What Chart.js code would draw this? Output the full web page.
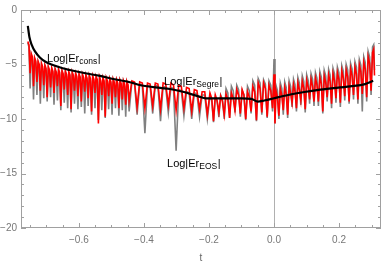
<!DOCTYPE html>
<html>
<head>
<meta charset="utf-8">
<script src="https://cdn.jsdelivr.net/npm/chart.js@4.4.0/dist/chart.umd.min.js"></script>
<style>
  html, body { margin: 0; padding: 0; background: #fff; }
</style>
</head>
<body>
<canvas id="errChart" width="382" height="267"></canvas>
<script>
// sample times for the two oscillating error curves
// (each oscillation read as peak, shoulder, dip)
const tNoise = [
  // t < -0.445, fast oscillation
  -0.757, -0.7535, -0.750, -0.7465, -0.743, -0.7395, -0.736, -0.7325, -0.729,
  -0.7255, -0.722, -0.7185, -0.715, -0.7115, -0.708, -0.7045, -0.701, -0.6975,
  -0.694, -0.6905, -0.687, -0.6835, -0.680, -0.6765, -0.673, -0.6695, -0.666,
  -0.6625, -0.659, -0.6555, -0.652, -0.6485, -0.645, -0.6415, -0.638, -0.6345,
  -0.631, -0.6275, -0.624, -0.6205, -0.617, -0.6135, -0.610, -0.6065, -0.603,
  -0.5995, -0.596, -0.5925, -0.589, -0.5855, -0.582, -0.5785, -0.575, -0.5715,
  -0.568, -0.5645, -0.561, -0.5575, -0.554, -0.5505, -0.547, -0.5435, -0.540,
  -0.5365, -0.533, -0.5295, -0.526, -0.5225, -0.519, -0.5155, -0.512, -0.5085,
  -0.505, -0.5015, -0.498, -0.4945, -0.491, -0.4875, -0.484, -0.4805, -0.477,
  -0.4735, -0.470, -0.4665, -0.463, -0.4595, -0.456, -0.4525, -0.449, -0.4455,
  // -0.44 .. -0.2, slow arches
  -0.437, -0.429, -0.421, -0.413, -0.405, -0.397, -0.389, -0.381, -0.373,
  -0.365, -0.357, -0.349, -0.341, -0.333, -0.325, -0.317, -0.309, -0.301,
  -0.293, -0.285, -0.277, -0.269, -0.261, -0.253, -0.245, -0.237, -0.229,
  -0.221, -0.213, -0.205,
  // -0.2 .. 0
  -0.197, -0.1915, -0.186, -0.1805, -0.175, -0.1695, -0.164, -0.1585, -0.153,
  -0.1475, -0.142, -0.1365, -0.131, -0.1255, -0.120, -0.1145, -0.109, -0.1035,
  -0.098, -0.0925, -0.087, -0.0815, -0.076, -0.0705, -0.065, -0.0595, -0.054,
  -0.0485, -0.043, -0.0375, -0.032, -0.0265, -0.021, -0.0155, -0.010, -0.0045,
  // spike at t = 0
  0.0, 0.003,
  // t > 0
  0.006, 0.0105, 0.015, 0.0195, 0.024, 0.0285, 0.033, 0.0375, 0.042,
  0.0465, 0.051, 0.0555, 0.060, 0.0645, 0.069, 0.0735, 0.078, 0.0825,
  0.087, 0.0915, 0.096, 0.1005, 0.105, 0.1095, 0.114, 0.1185, 0.123,
  0.1275, 0.132, 0.1365, 0.141, 0.1455, 0.150, 0.1545, 0.159, 0.1635,
  0.168, 0.1725, 0.177, 0.1815, 0.186, 0.1905, 0.195, 0.1995, 0.204,
  0.2085, 0.213, 0.2175, 0.222, 0.2265, 0.231, 0.2355, 0.240, 0.2445,
  0.249, 0.2535, 0.258, 0.2625, 0.267, 0.2715, 0.276, 0.2805, 0.285,
  0.2895, 0.294, 0.2985, 0.303, 0.3065, 0.309
];

// Log|Er_Segre| (red)
const segreVals = [
  -2.9, -3.2, -5.8, -4.0, -4.3, -7.0, -4.4, -4.7, -6.6,
  -4.7, -5.0, -7.4, -4.9, -5.2, -6.9, -5.05, -5.35, -8.0,
  -5.2, -5.5, -7.1, -5.3, -5.6, -7.6, -5.4, -5.7, -7.0,
  -5.45, -5.75, -8.8, -5.55, -5.85, -7.3, -5.6, -5.9, -7.8,
  -5.65, -5.95, -9.1, -5.7, -6.0, -7.4, -5.8, -6.1, -7.9,
  -5.85, -6.15, -8.4, -5.9, -6.2, -7.5, -5.95, -6.25, -8.1,
  -6.0, -6.3, -9.3, -6.05, -6.35, -7.6, -6.1, -6.4, -10.4,
  -6.15, -6.45, -7.8, -6.2, -6.5, -9.8, -6.25, -6.55, -7.9,
  -6.3, -6.6, -8.6, -6.35, -6.65, -8.0, -6.4, -6.7, -9.0,
  -6.45, -6.75, -8.2, -6.5, -6.8, -8.7, -6.55, -6.85, -8.3,

  -6.5, -6.6, -8.9, -6.6, -6.7, -9.0, -6.7, -6.8, -8.8,
  -6.7, -6.8, -9.1, -6.7, -6.8, -8.7, -6.7, -6.9, -9.2,
  -6.9, -7.0, -9.0, -7.1, -7.2, -9.3, -7.3, -7.4, -9.1,
  -7.5, -7.5, -9.6,

  -7.6, -8.1, -10.2, -7.8, -8.3, -9.4, -7.9, -8.4, -9.6,
  -7.7, -8.2, -9.9, -7.6, -8.1, -9.2, -7.3, -7.8, -9.5,
  -7.3, -7.8, -10.0, -7.5, -8.0, -9.3, -7.0, -7.5, -10.1,
  -6.7, -7.2, -9.4, -6.7, -7.2, -9.8, -6.9, -7.4, -9.0,

  -5.9, -10.4,

  -7.4, -8.0, -9.7, -7.2, -7.8, -9.2, -7.1, -7.7, -9.6,
  -7.0, -7.6, -8.5, -6.85, -7.45, -9.0, -6.7, -7.3, -8.3,
  -6.55, -7.15, -9.1, -6.45, -7.05, -8.2, -6.35, -6.95, -8.4,
  -6.25, -6.85, -8.4, -6.15, -6.75, -9.3, -6.05, -6.65, -8.0,
  -5.95, -6.55, -8.6, -5.85, -6.45, -8.1, -5.75, -6.35, -8.5,
  -5.6, -6.2, -7.9, -5.5, -6.1, -8.4, -5.4, -6.0, -7.8,
  -5.25, -5.85, -8.2, -5.05, -5.65, -7.7, -4.8, -5.4, -8.0,
  -4.3, -4.9, -7.4, -3.9, -3.6, -6.0
];

// Log|Er_EOS| (gray)
const eosVals = [
  -3.0, -3.4, -7.2, -4.1, -4.5, -8.2, -4.5, -4.9, -7.8,
  -4.8, -5.2, -8.6, -5.0, -5.4, -8.1, -5.15, -5.55, -8.4,
  -5.3, -5.7, -8.0, -5.4, -5.8, -8.7, -5.5, -5.9, -8.3,
  -5.55, -5.95, -9.2, -5.65, -6.05, -8.5, -5.7, -6.1, -9.0,
  -5.75, -6.15, -9.4, -5.8, -6.2, -8.6, -5.9, -6.3, -9.1,
  -5.95, -6.35, -8.9, -6.0, -6.4, -9.5, -6.05, -6.45, -8.8,
  -6.1, -6.5, -9.6, -6.15, -6.55, -9.0, -6.2, -6.6, -10.1,
  -6.25, -6.65, -9.2, -6.3, -6.7, -9.9, -6.35, -6.75, -9.1,
  -6.4, -6.8, -9.6, -6.45, -6.85, -9.0, -6.5, -6.9, -9.7,
  -6.55, -6.95, -9.2, -6.6, -7.0, -9.8, -6.65, -7.05, -9.3,

  -6.6, -6.7, -9.6, -6.8, -6.9, -11.3, -6.9, -7.0, -9.5,
  -6.9, -7.0, -10.2, -7.0, -7.1, -9.4, -7.1, -7.2, -12.9,
  -7.3, -7.4, -9.7, -7.5, -7.6, -10.0, -7.6, -7.7, -9.8,
  -7.8, -7.8, -10.0,

  -7.9, -8.3, -10.3, -8.0, -8.4, -9.8, -7.8, -8.2, -10.0,
  -7.2, -7.6, -9.9, -7.0, -7.4, -9.4, -6.9, -7.3, -9.8,
  -7.4, -7.8, -10.1, -7.0, -7.4, -9.5, -6.5, -6.9, -10.2,
  -6.3, -6.7, -9.6, -6.4, -6.8, -9.9, -6.5, -6.9, -9.3,

  -4.5, -10.4,

  -6.9, -7.4, -10.0, -6.7, -7.2, -9.6, -6.6, -7.1, -9.9,
  -6.5, -7.0, -8.9, -6.35, -6.85, -9.3, -6.2, -6.7, -8.7,
  -6.05, -6.55, -9.4, -5.95, -6.45, -8.6, -5.85, -6.35, -8.8,
  -5.75, -6.25, -8.8, -5.65, -6.15, -9.5, -5.55, -6.05, -8.4,
  -5.45, -5.95, -9.0, -5.35, -5.85, -8.5, -5.25, -5.75, -8.9,
  -5.1, -5.6, -8.3, -5.0, -5.5, -8.6, -4.9, -5.4, -8.2,
  -4.75, -5.25, -8.6, -4.55, -5.05, -9.3, -4.3, -4.8, -8.4,
  -3.8, -4.3, -7.8, -3.4, -3.2, -5.5
];

// Log|Er_cons| (black, smooth)
const tCons = [
  -0.757, -0.752, -0.745, -0.735, -0.72, -0.70, -0.68, -0.65, -0.628, -0.58,
  -0.535, -0.49, -0.44, -0.41, -0.35, -0.32, -0.28, -0.23, -0.21, -0.15,
  -0.10, -0.07, -0.05, -0.03, 0.0, 0.05, 0.142, 0.234, 0.28, 0.305
];
const consVals = [
  -1.45, -2.5, -3.2, -3.8, -4.35, -4.8, -5.05, -5.35, -5.5, -5.8,
  -6.05, -6.35, -6.65, -6.9, -7.15, -7.25, -7.5, -7.95, -8.1, -8.1,
  -8.1, -8.15, -8.4, -8.3, -8.1, -7.75, -7.3, -7.0, -6.8, -6.5
];

const xTickVals = [-0.6, -0.4, -0.2, 0, 0.2];
const yTickVals = [0, -5, -10, -15, -20];

// curve labels: main text, subscript, anchor (t, value) of the left edge
const curveLabels = [
  { main: 'Log|Er', sub: 'cons', t: -0.698, v: -4.5 },
  { main: 'Log|Er', sub: 'Segre', t: -0.338, v: -6.6 },
  { main: 'Log|Er', sub: 'EOS', t: -0.329, v: -14.1 }
];

const FONT = '"Liberation Sans", Arial, sans-serif';

function minusSign(s) {
  return s.replace('-', '\u2212');
}

function toPoints(ts, vs) {
  return ts.map((t, i) => ({ x: t, y: vs[i] }));
}

const framePlugin = {
  id: 'frame',
  beforeDatasetsDraw(chart) {
    const { ctx, chartArea: a, scales: { x } } = chart;
    ctx.save();
    ctx.strokeStyle = '#b0b0b0';
    ctx.lineWidth = 1;
    const x0 = Math.round(x.getPixelForValue(0)) + 0.5;
    ctx.beginPath();
    ctx.moveTo(x0, a.top);
    ctx.lineTo(x0, a.bottom);
    ctx.stroke();
    ctx.restore();
  },
  afterDatasetsDraw(chart) {
    const { ctx, chartArea: a, scales: { x, y } } = chart;
    ctx.save();

    // frame
    ctx.strokeStyle = '#a0a0a0';
    ctx.lineWidth = 1;
    ctx.strokeRect(a.left + 0.5, a.top + 0.5, a.right - a.left - 1, a.bottom - a.top - 1);

    // inward ticks on all four sides
    ctx.beginPath();
    for (let k = -15; k <= 6; k++) {
      const v = k * 0.05;
      if (v < x.min || v > x.max) continue;
      const len = (k % 4 === 0) ? 5 : 3;
      const px = Math.round(x.getPixelForValue(v)) + 0.5;
      ctx.moveTo(px, a.bottom);
      ctx.lineTo(px, a.bottom - len);
      ctx.moveTo(px, a.top);
      ctx.lineTo(px, a.top + len);
    }
    for (let v = -20; v <= 0; v++) {
      const len = (v % 5 === 0) ? 5 : 3;
      const py = Math.round(y.getPixelForValue(v)) + 0.5;
      ctx.moveTo(a.left, py);
      ctx.lineTo(a.left + len, py);
      ctx.moveTo(a.right, py);
      ctx.lineTo(a.right - len, py);
    }
    ctx.stroke();

    // curve labels
    ctx.fillStyle = '#000';
    ctx.textBaseline = 'middle';
    curveLabels.forEach(l => {
      let px = x.getPixelForValue(l.t);
      const py = y.getPixelForValue(l.v);
      ctx.font = '11px ' + FONT;
      ctx.fillText(l.main, px, py);
      px += ctx.measureText(l.main).width;
      ctx.font = '8.5px ' + FONT;
      ctx.fillText(l.sub, px, py + 3);
      px += ctx.measureText(l.sub).width + 0.5;
      ctx.font = '11px ' + FONT;
      ctx.fillText('|', px, py);
    });

    // axis title
    ctx.fillStyle = '#666';
    ctx.font = '10px ' + FONT;
    ctx.textAlign = 'center';
    ctx.fillText('t', (a.left + a.right) / 2, a.bottom + 30);
    ctx.restore();
  }
};

new Chart(document.getElementById('errChart').getContext('2d'), {
  type: 'scatter',
  data: {
    datasets: [
      {
        label: 'Log|Er_cons|',
        data: toPoints(tCons, consVals),
        showLine: true,
        borderColor: '#000',
        borderWidth: 2.2,
        pointRadius: 0,
        cubicInterpolationMode: 'monotone',
        order: 0
      },
      {
        label: 'Log|Er_Segre|',
        data: toPoints(tNoise, segreVals),
        showLine: true,
        borderColor: '#ff0000',
        borderWidth: 1.6,
        pointRadius: 0,
        tension: 0,
        order: 1
      },
      {
        label: 'Log|Er_EOS|',
        data: toPoints(tNoise, eosVals),
        showLine: true,
        borderColor: '#808080',
        borderWidth: 1.6,
        pointRadius: 0,
        tension: 0,
        order: 2
      }
    ]
  },
  options: {
    responsive: false,
    devicePixelRatio: 1,
    animation: false,
    layout: { padding: { top: 7, right: 1, left: 0, bottom: 0 } },
    plugins: {
      legend: { display: false },
      tooltip: { enabled: false }
    },
    scales: {
      x: {
        type: 'linear',
        min: -0.778,
        max: 0.329,
        grid: { display: false, drawTicks: false },
        border: { display: false },
        afterBuildTicks: s => { s.ticks = xTickVals.map(v => ({ value: v })); },
        afterFit: s => { s.height = 39; },
        ticks: {
          padding: 6,
          color: '#777',
          font: { family: FONT, size: 10 },
          maxRotation: 0,
          callback: v => minusSign(Number(v).toFixed(1))
        }
      },
      y: {
        type: 'linear',
        min: -20,
        max: 0,
        grid: { display: false, drawTicks: false },
        border: { display: false },
        afterBuildTicks: s => { s.ticks = yTickVals.map(v => ({ value: v })); },
        afterFit: s => { s.width = 21; },
        ticks: {
          padding: 4,
          color: '#777',
          font: { family: FONT, size: 10 },
          callback: v => minusSign(String(v))
        }
      }
    }
  },
  plugins: [framePlugin]
});
</script>
</body>
</html>
